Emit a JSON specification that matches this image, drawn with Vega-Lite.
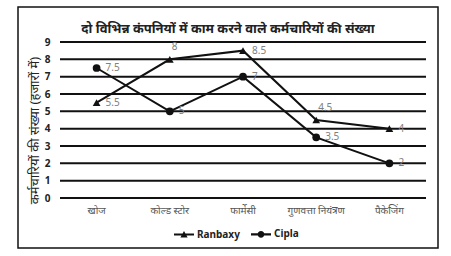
{
  "$schema": "https://vega.github.io/schema/vega-lite/v6.json",
  "width": 420,
  "height": 241,
  "autosize": {"type": "none"},
  "padding": {"left": 18, "top": 7, "right": 13, "bottom": 8},
  "background": "white",
  "config": {
    "view": {"stroke": "#111", "strokeWidth": 1.5},
    "font": "Noto Sans"
  },
  "title": {
    "text": "दो विभिन्न कंपनियों में काम करने वाले कर्मचारियों की संख्या",
    "offset": -29,
    "fontSize": 13,
    "fontWeight": "bold",
    "color": "#222"
  },
  "datasets": {
    "emp": [
      {"category": "खोज", "company": "Ranbaxy", "value": 5.5},
      {"category": "कोल्ड स्टोर", "company": "Ranbaxy", "value": 8},
      {"category": "फार्मेसी", "company": "Ranbaxy", "value": 8.5},
      {"category": "गुणवत्ता नियंत्रण", "company": "Ranbaxy", "value": 4.5},
      {"category": "पैकेजिंग", "company": "Ranbaxy", "value": 4},
      {"category": "खोज", "company": "Cipla", "value": 7.5},
      {"category": "कोल्ड स्टोर", "company": "Cipla", "value": 5},
      {"category": "फार्मेसी", "company": "Cipla", "value": 7},
      {"category": "गुणवत्ता नियंत्रण", "company": "Cipla", "value": 3.5},
      {"category": "पैकेजिंग", "company": "Cipla", "value": 2}
    ],
    "grid": [
      {"value": 0}, {"value": 1}, {"value": 2}, {"value": 3}, {"value": 4},
      {"value": 5}, {"value": 6}, {"value": 7}, {"value": 8}, {"value": 9}
    ]
  },
  "encoding": {
    "x": {
      "field": "category",
      "type": "nominal",
      "sort": null,
      "scale": {
        "domain": ["खोज", "कोल्ड स्टोर", "फार्मेसी", "गुणवत्ता नियंत्रण", "पैकेजिंग"],
        "range": [42, 408],
        "paddingInner": 0,
        "paddingOuter": 0
      },
      "axis": {
        "orient": "bottom",
        "offset": -50,
        "ticks": false,
        "domain": false,
        "grid": false,
        "labelPadding": 7,
        "labelAngle": 0,
        "labelAlign": "center",
        "labelOverlap": false,
        "title": null,
        "labelFontSize": 10,
        "labelColor": "#555"
      }
    },
    "y": {
      "field": "value",
      "type": "quantitative",
      "scale": {"domain": [0, 9], "range": [191, 35], "nice": false, "zero": false},
      "axis": {
        "offset": -32,
        "ticks": false,
        "domain": false,
        "grid": false,
        "labelPadding": 0,
        "labelOverlap": false,
        "values": [0, 1, 2, 3, 4, 5, 6, 7, 8, 9],
        "labelFontSize": 10,
        "labelFontWeight": "bold",
        "labelColor": "#222",
        "title": "कर्मचारियों की संख्या (हजारों में)",
        "titleFontSize": 13,
        "titleFontWeight": "normal",
        "titleColor": "#222",
        "titlePadding": 3,
        "titleY": 123
      }
    }
  },
  "layer": [
    {
      "data": {"name": "grid"},
      "mark": {"type": "rule", "color": "#111", "strokeWidth": 2},
      "encoding": {
        "x": {
          "datum": "खोज",
          "type": "nominal",
          "bandPosition": 0,
          "axis": {
            "orient": "bottom",
            "offset": -50,
            "ticks": false,
            "domain": false,
            "grid": false,
            "labelPadding": 7,
            "labelAngle": 0,
            "labelAlign": "center",
            "labelOverlap": false,
            "title": null,
            "labelFontSize": 10,
            "labelColor": "#555"
          }
        },
        "x2": {"datum": "पैकेजिंग", "bandPosition": 1}
      }
    },
    {
      "data": {"name": "emp"},
      "mark": {"type": "line", "color": "#111", "strokeWidth": 2},
      "encoding": {
        "detail": {"field": "company"}
      }
    },
    {
      "data": {"name": "emp"},
      "transform": [{"filter": "datum.company === 'Ranbaxy'"}],
      "mark": {"type": "point", "shape": "triangle-up", "filled": true, "size": 60, "color": "#111", "opacity": 1}
    },
    {
      "data": {"name": "emp"},
      "transform": [{"filter": "datum.company === 'Cipla'"}],
      "mark": {"type": "point", "shape": "circle", "filled": true, "size": 60, "color": "#111", "opacity": 1}
    },
    {
      "data": {"name": "emp"},
      "transform": [{"filter": "false"}],
      "mark": {"type": "point", "filled": true, "color": "#111", "size": 400, "opacity": 1},
      "encoding": {
        "shape": {
          "field": "company",
          "type": "nominal",
          "scale": {
            "domain": ["Ranbaxy", "Cipla"],
            "range": [
              "M-1,-0.11H1V0.11H-1ZM-0.36,0.3L0,-0.34L0.36,0.3Z",
              "M-1,-0.11H1V0.11H-1ZM-0.34,0A0.34,0.34 0 1,1 0.34,0A0.34,0.34 0 1,1 -0.34,0Z"
            ]
          },
          "legend": {
            "orient": "none",
            "legendX": 155,
            "legendY": 216,
            "direction": "horizontal",
            "title": null,
            "labelFontSize": 10,
            "labelFontWeight": "bold",
            "labelColor": "#222",
            "symbolSize": 400,
            "symbolFillColor": "#111",
            "labelOffset": 2,
            "columnPadding": 8
          }
        }
      }
    },
    {
      "data": {"name": "emp"},
      "transform": [
        {"filter": "!(datum.company === 'Ranbaxy' && (datum.category === 'कोल्ड स्टोर' || datum.category === 'गुणवत्ता नियंत्रण'))"}
      ],
      "mark": {"type": "text", "align": "left", "baseline": "middle", "dx": 9, "fontSize": 10, "color": "#808080"},
      "encoding": {
        "text": {"field": "value", "type": "quantitative"}
      }
    },
    {
      "data": {"name": "emp"},
      "transform": [
        {"filter": "datum.company === 'Ranbaxy' && (datum.category === 'कोल्ड स्टोर' || datum.category === 'गुणवत्ता नियंत्रण')"}
      ],
      "mark": {"type": "text", "align": "left", "baseline": "middle", "dx": 2, "dy": -12, "fontSize": 10, "color": "#808080"},
      "encoding": {
        "text": {"field": "value", "type": "quantitative"}
      }
    }
  ]
}
